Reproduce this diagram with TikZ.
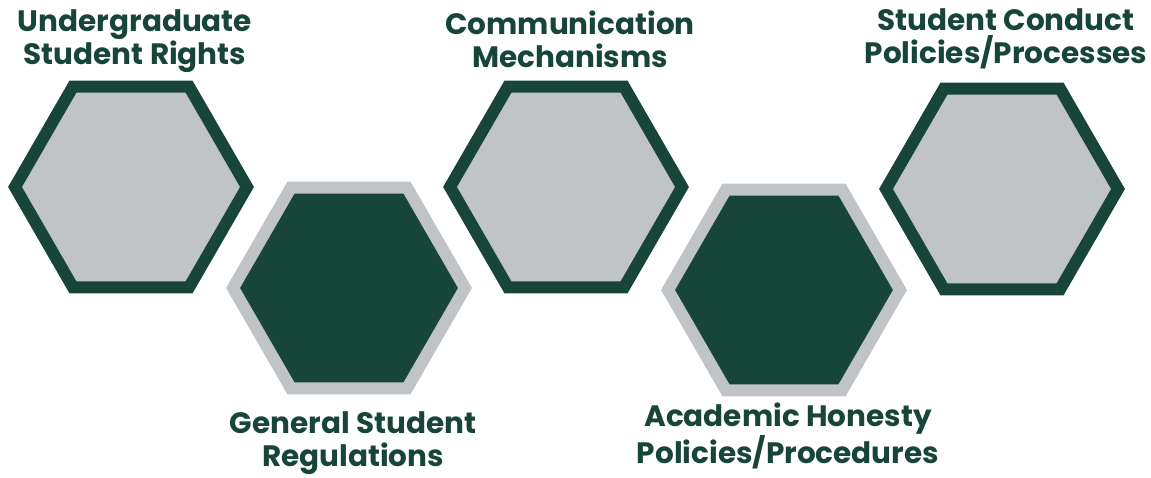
\documentclass[tikz,border=0pt]{standalone}
\usepackage{fontspec}
\setmainfont{Poppins}
\usepackage{xcolor}
\usepackage{tikz}
\usetikzlibrary{shapes.geometric,positioning}
\definecolor{hexgreen}{HTML}{184539}
\definecolor{hexgray}{HTML}{C0C4C7}

\begin{document}
\begin{tikzpicture}[x=1pt, y=1pt,
	hexup/.style={regular polygon, regular polygon sides=6, minimum size=232pt, inner sep=0pt, line width=12pt, draw=hexgreen, fill=hexgray},
	hexdown/.style={hexup, draw=hexgray, fill=hexgreen},
	hexlabel/.style={align=center, inner sep=0pt, xshift=4pt, text=hexgreen, font=\fontsize{29.5}{33}\selectfont\bfseries, text height=54pt, text depth=0pt}]
					\useasboundingbox (0,0) rectangle (1151,478);
					% hexagons
					\node[hexup] (h1) at (131,291) {};
					\node[hexdown] (h2) at (349,190) {};
					\node[hexup] (h3) at (566,291) {};
					\node[hexdown] (h4) at (784,188) {};
					\node[hexup] (h5) at (1002,289) {};
					% labels
					\node[hexlabel, above=16pt of h1] (l1) {Undergraduate\\Student Rights};
					\node[hexlabel, below=18pt of h2] (l2) {General Student\\Regulations};
					\node[hexlabel, above=13pt of h3] (l3) {Communication\\Mechanisms};
					\node[hexlabel, below=13pt of h4] (l4) {Academic Honesty\\Policies/Procedures};
					\node[hexlabel, above=19pt of h5] (l5) {Student Conduct\\Policies/Processes};
				\end{tikzpicture}
\end{document}
